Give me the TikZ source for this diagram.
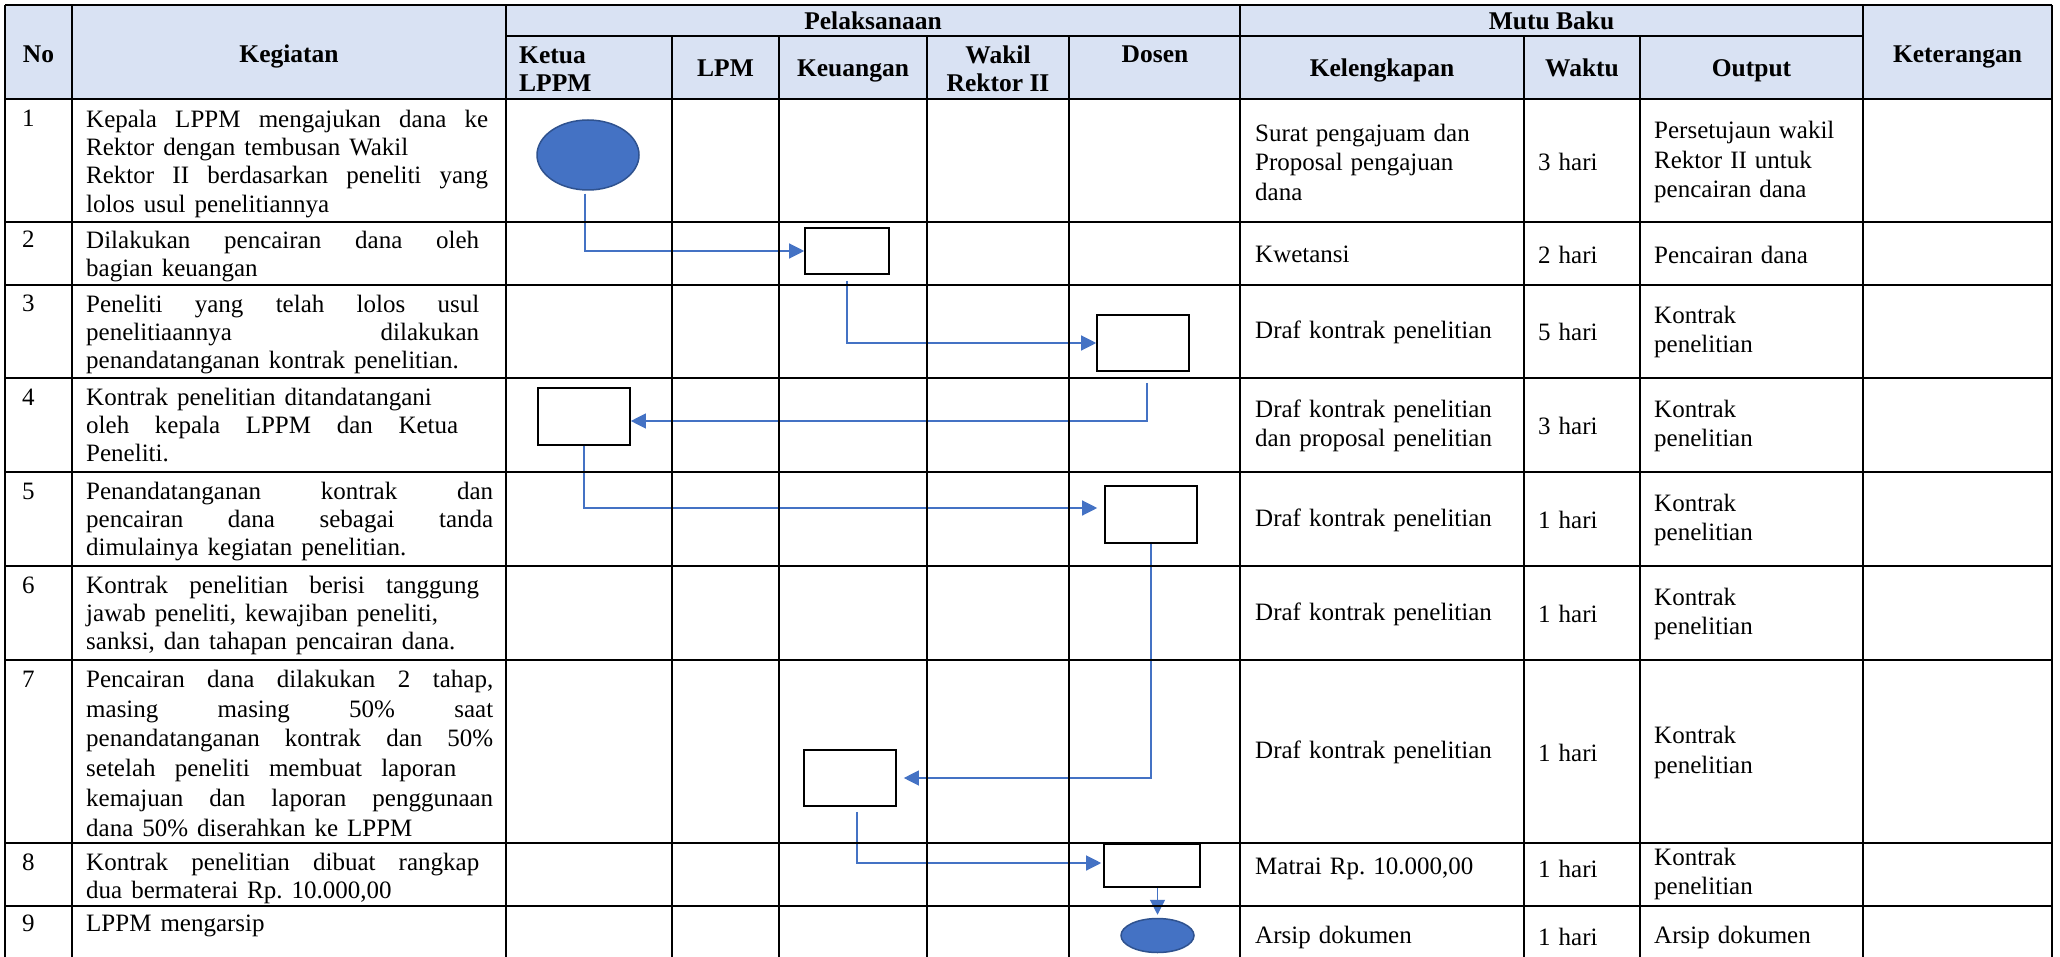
\documentclass[tikz,border=0pt]{standalone}
\usepackage{fontspec}
\setmainfont{Liberation Serif}
\usetikzlibrary{shapes.geometric,arrows.meta}
\definecolor{hdrfill}{HTML}{D9E2F3}
\definecolor{flowblue}{HTML}{4472C4}
\definecolor{termedge}{HTML}{2F528F}
\newcommand\jl[2]{\hbox to #1pt{#2}}
\newcommand\bodyfont{\fontsize{25}{28.3}\selectfont\frenchspacing\spaceskip=9pt plus 40pt minus 1pt\relax}
\newcommand\wideskip{\fontsize{25}{29.8}\selectfont\frenchspacing\spaceskip=9pt plus 40pt minus 1pt\relax}
\newcommand\cellfont{\fontsize{25}{29.5}\selectfont\frenchspacing\spaceskip=8pt plus 40pt minus 1pt\relax}
\newcommand\hdrfont{\fontsize{25.5}{28.7}\selectfont\bfseries}
\newcommand\topstrut{\rule{0pt}{20pt}}
\begin{document}
\begin{tikzpicture}[x=1pt,y=-1pt,
  gridline/.style={line width=1.5pt,black},
  hdr/.style={font=\hdrfont,inner sep=0pt,anchor=base},
  keg/.style={font=\bodyfont,inner sep=0pt,anchor=north west,align=left},
  num/.style={font=\bodyfont,inner sep=0pt,anchor=base west},
  cell/.style={font=\cellfont,inner sep=0pt,anchor=west,align=left},
  proc/.style={rectangle,draw=black,fill=white,line width=1.6pt,inner sep=0pt},
  term/.style={ellipse,draw=termedge,fill=flowblue,line width=1.5pt,inner sep=0pt},
  flow/.style={draw=flowblue,line width=1.2pt,-{Triangle[length=15pt,width=15pt]}},
]
\useasboundingbox (0,0) rectangle (2060,957);
\fill[white] (0,0) rectangle (2060,957);
% header background
\fill[hdrfill] (5,5) rectangle (2052,99);

% header texts
\node[hdr] (hno) at (38.5,63) {No};
\node[hdr] (hkeg) at (289,63) {Kegiatan};
\node[hdr] (hpel) at (873,30) {Pelaksanaan};
\node[hdr] (hmutu) at (1551.5,30) {Mutu Baku};
\node[hdr] (hket) at (1957.5,63) {Keterangan};
\node[hdr,anchor=north west,align=left] (hketua) at (519,43) {\topstrut Ketua\\LPPM};
\node[hdr] (hlpm) at (725.5,76.5) {LPM};
\node[hdr] (hkeu) at (853,76.5) {Keuangan};
\node[hdr,anchor=north,align=center] (hwakil) at (998,43) {\topstrut Wakil\\Rektor II};
\node[hdr] (hdosen) at (1155,63) {Dosen};
\node[hdr] (hkel) at (1382,76.5) {Kelengkapan};
\node[hdr] (hwaktu) at (1582,76.5) {Waktu};
\node[hdr] (hout) at (1751.5,76.5) {Output};

% row numbers
\node[num] (n1) at (22,127) {1};
\node[num] (n2) at (22,248) {2};
\node[num] (n3) at (22,312) {3};
\node[num] (n4) at (22,405) {4};
\node[num] (n5) at (22,499) {5};
\node[num] (n6) at (22,593) {6};
\node[num] (n7) at (22,687) {7};
\node[num] (n8) at (22,870) {8};
\node[num] (n9) at (22,931) {9};

% kegiatan
\node[keg] (k1) at (86,107) {\topstrut\jl{402}{Kepala LPPM mengajukan dana ke}\\Rektor dengan tembusan Wakil\\\jl{402}{Rektor II berdasarkan peneliti yang}\\lolos usul penelitiannya};
\node[keg] (k2) at (86,228) {\topstrut\jl{393}{Dilakukan pencairan dana oleh}\\bagian keuangan};
\node[keg] (k3) at (86,292) {\topstrut\jl{393}{Peneliti yang telah lolos usul}\\\jl{393}{penelitiaannya dilakukan}\\penandatanganan kontrak penelitian.};
\node[keg] (k4) at (86,385) {\topstrut Kontrak penelitian ditandatangani\\\jl{372}{oleh kepala LPPM dan Ketua}\\Peneliti.};
\node[keg] (k5) at (86,479) {\topstrut\jl{407}{Penandatanganan kontrak dan}\\\jl{407}{pencairan dana sebagai tanda}\\dimulainya kegiatan penelitian.};
\node[keg] (k6) at (86,573) {\topstrut\jl{393}{Kontrak penelitian berisi tanggung}\\jawab peneliti, kewajiban peneliti,\\sanksi, dan tahapan pencairan dana.};
\node[keg,font=\wideskip] (k7) at (86,667) {\topstrut\jl{407}{Pencairan dana dilakukan 2 tahap,}\\\jl{407}{masing masing 50\% saat}\\\jl{407}{penandatanganan kontrak dan 50\%}\\\jl{370}{setelah peneliti membuat laporan}\\\jl{407}{kemajuan dan laporan penggunaan}\\dana 50\% diserahkan ke LPPM};
\node[keg] (k8) at (86,850) {\topstrut\jl{393}{Kontrak penelitian dibuat rangkap}\\dua bermaterai Rp. 10.000,00};
\node[keg] (k9) at (86,911) {\topstrut LPPM mengarsip};

% kelengkapan
\node[cell] (l1) at (1255,162) {Surat pengajuam dan\\Proposal pengajuan\\dana};
\node[cell] (l2) at (1255,254.5) {Kwetansi};
\node[cell] (l3) at (1255,332) {Draf kontrak penelitian};
\node[cell] (l4) at (1255,426) {Draf kontrak penelitian\\dan proposal penelitian};
\node[cell] (l5) at (1255,520) {Draf kontrak penelitian};
\node[cell] (l6) at (1255,614) {Draf kontrak penelitian};
\node[cell] (l7) at (1255,752.5) {Draf kontrak penelitian};
\node[cell] (l8) at (1255,869) {Matrai Rp. 10.000,00};
\node[cell] (l9) at (1255,937) {Arsip dokumen};

% waktu
\node[cell] (w1) at (1538,162) {3 hari};
\node[cell] (w2) at (1538,254.5) {2 hari};
\node[cell] (w3) at (1538,332) {5 hari};
\node[cell] (w4) at (1538,426) {3 hari};
\node[cell] (w5) at (1538,520) {1 hari};
\node[cell] (w6) at (1538,614) {1 hari};
\node[cell] (w7) at (1538,752.5) {1 hari};
\node[cell] (w8) at (1538,869) {1 hari};
\node[cell] (w9) at (1538,937) {1 hari};

% output
\node[cell] (o1) at (1654,162) {Persetujaun wakil\\Rektor II untuk\\pencairan dana};
\node[cell] (o2) at (1654,254.5) {Pencairan dana};
\node[cell] (o3) at (1654,332) {Kontrak\\penelitian};
\node[cell] (o4) at (1654,426) {Kontrak\\penelitian};
\node[cell] (o5) at (1654,520) {Kontrak\\penelitian};
\node[cell] (o6) at (1654,614) {Kontrak\\penelitian};
\node[cell] (o7) at (1654,752.5) {Kontrak\\penelitian};
\node[cell] (o8) at (1654,874) {Kontrak\\penelitian};
\node[cell] (o9) at (1654,937) {Arsip dokumen};

% flow shapes
\node[term,minimum width=102pt,minimum height=70pt] (E1) at (588,155) {};
\node[proc,minimum width=84pt,minimum height=46pt] (B2) at (847,251) {};
\node[proc,minimum width=92pt,minimum height=56pt] (B3) at (1143,343) {};
\node[proc,minimum width=92pt,minimum height=57pt] (B4) at (584,416.5) {};
\node[proc,minimum width=92pt,minimum height=57pt] (B5) at (1151,514.5) {};
\node[proc,minimum width=92pt,minimum height=56pt] (B7) at (850,778) {};
\node[proc,minimum width=96pt,minimum height=43pt] (B8) at (1152,865.5) {};
\node[term,minimum width=73pt,minimum height=34pt] (E9) at (1157.5,935.5) {};

% connectors
\draw[flow] ([xshift=-3pt,yshift=-3pt]E1.south) |- (B2.west);
\draw[flow] ([yshift=-6pt]B2.south) |- (B3.west);
\draw[flow] ([xshift=4pt,yshift=-11pt]B3.south) |- ([yshift=-4.5pt]B4.east);
\draw[flow,shorten >=7pt] (B4.south) |- ([yshift=6.5pt]B5.west);
\draw[flow,shorten >=7pt] (B5.south) |- (B7.east);
\draw[flow,shorten >=2pt] ([xshift=7pt,yshift=-5pt]B7.south) |- ([yshift=2.5pt]B8.west);
\draw[flow,shorten >=3pt] (B8.south -| E9.north) -- (E9.north);

% grid
\draw[gridline] (5,5) -- (2052,5);
\draw[gridline] (506,36) -- (1863,36);
\foreach \yy in {99,222,285,378,472,566,660,843,906}
  \draw[gridline] (5,\yy) -- (2052,\yy);
\foreach \xx in {5,72,506,1240,1863,2052}
  \draw[gridline] (\xx,5) -- (\xx,957);
\foreach \xx in {672,779,927,1069,1524,1640}
  \draw[gridline] (\xx,36) -- (\xx,957);
\end{tikzpicture}
\end{document}
